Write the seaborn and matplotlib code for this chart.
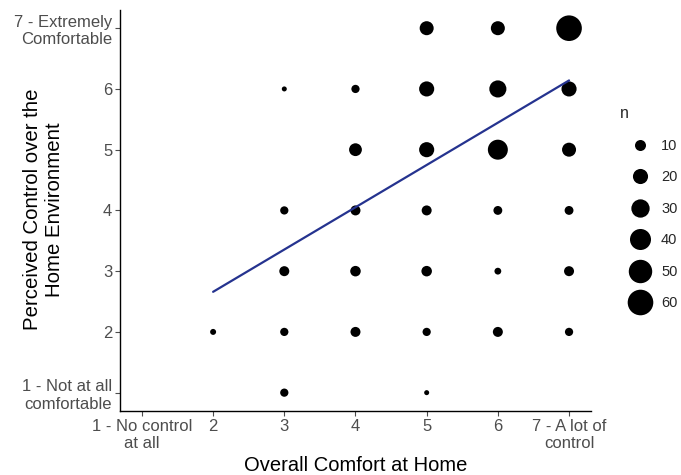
import matplotlib
matplotlib.use("Agg")
import matplotlib.pyplot as plt
import seaborn as sns
import pandas as pd

# Bubble data (counts per combination)
comfort = [5, 6, 7, 3, 4, 5, 6, 7, 4, 5, 6, 7, 3, 4, 5, 6, 7, 3, 4, 5, 6, 7, 2, 3, 4, 5, 6, 7, 3, 5]
control = [7, 7, 7, 6, 6, 6, 6, 6, 5, 5, 5, 5, 4, 4, 4, 4, 4, 3, 3, 3, 3, 3, 2, 2, 2, 2, 2, 2, 1, 1]
counts = [17, 17, 60, 1, 5, 20, 26, 20, 14, 20, 36, 17, 5, 8, 8, 6, 6, 8, 9, 9, 3, 8, 2, 5, 8, 5, 8, 5, 5, 1]

# Linear fit line
fit_x = [2, 7]
fit_y = [2.66, 6.14]

tick_values = [1, 2, 3, 4, 5, 6, 7]
x_tick_labels = ["1 - No control\nat all", "2", "3", "4", "5", "6", "7 - A lot of\ncontrol"]
y_tick_labels = ["1 - Not at all\ncomfortable", "2", "3", "4", "5", "6", "7 - Extremely\nComfortable"]

sns.set_theme(style="ticks")
plt.rcParams["font.family"] = ["Liberation Sans", "DejaVu Sans"]

df = pd.DataFrame({"comfort": comfort, "control": control, "n": counts})

fig = plt.figure(figsize=(6.81, 4.75), dpi=100)
ax = fig.add_axes([0.176, 0.135, 0.692, 0.844])

sns.scatterplot(data=df, x="comfort", y="control", size="n", sizes=(13, 340),
                color="black", linewidth=0, ax=ax, legend="brief")
sns.lineplot(x=fit_x, y=fit_y, color="#25338f", linewidth=1.6, ax=ax)

ax.set_xlim(0.69, 7.31)
ax.set_ylim(0.70, 7.30)
ax.set_xticks(tick_values)
ax.set_xticklabels(x_tick_labels)
ax.set_yticks(tick_values)
ax.set_yticklabels(y_tick_labels)
ax.tick_params(axis="both", labelsize=12, colors="#4D4D4D", length=3.5, width=0.8, pad=2)
for lab in ax.get_xticklabels() + ax.get_yticklabels():
    lab.set_color("#4D4D4D")
ax.set_xlabel("Overall Comfort at Home", fontsize=14.5, color="black", labelpad=4)
ax.set_ylabel("Perceived Control over the\nHome Environment", fontsize=14.7, color="black")
ax.yaxis.set_label_coords(-0.119, 0.503)
for s in ["left", "bottom"]:
    ax.spines[s].set_color("black")
    ax.spines[s].set_linewidth(1.0)
sns.despine(ax=ax)

sns.move_legend(ax, "center left", bbox_to_anchor=(1.034, 0.505), frameon=False,
                title="n", fontsize=10.5, title_fontsize=11.5,
                labelspacing=1.2, handletextpad=0.1, handlelength=2.7)
leg = ax.get_legend()
leg._legend_box.align = "left"

fig.savefig("out.png", dpi=100, facecolor="white")
